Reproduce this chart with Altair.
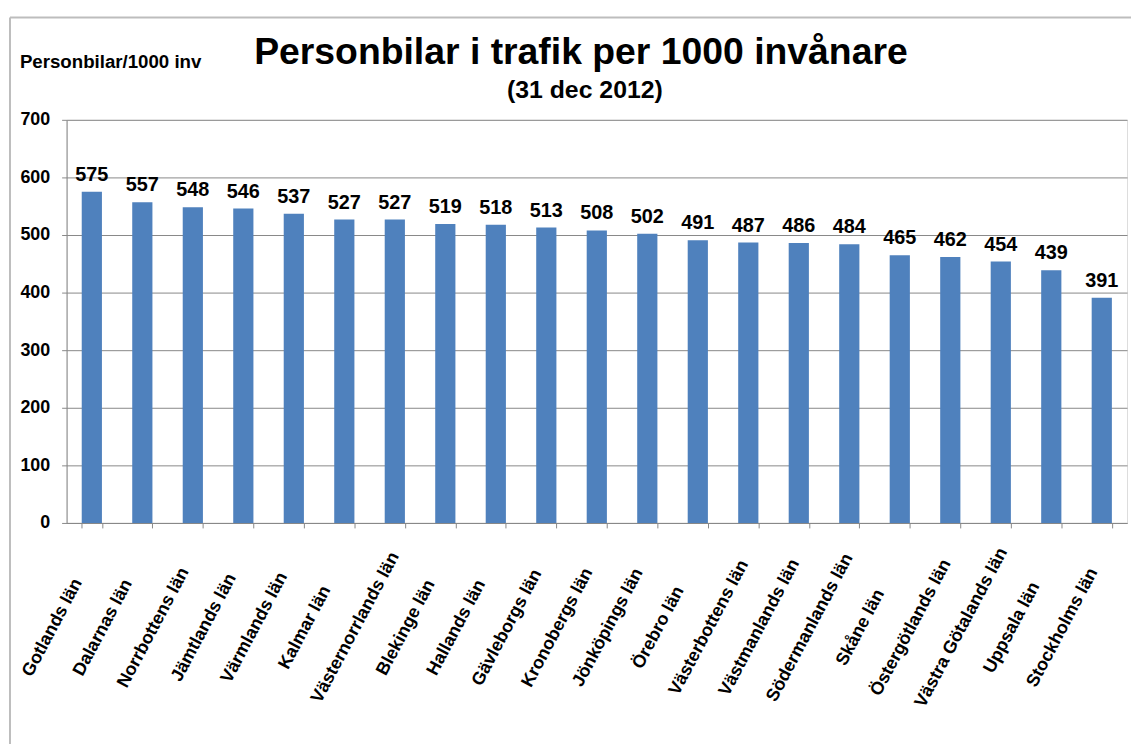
import altair as alt
import pandas as pd

counties = ["Gotlands län", "Dalarnas län", "Norrbottens län", "Jämtlands län", "Värmlands län",
            "Kalmar län", "Västernorrlands län", "Blekinge län", "Hallands län", "Gävleborgs län",
            "Kronobergs län", "Jönköpings län", "Örebro län", "Västerbottens län", "Västmanlands län",
            "Södermanlands län", "Skåne län", "Östergötlands län", "Västra Götalands län",
            "Uppsala län", "Stockholms län"]
values = [575, 557, 548, 546, 537, 527, 527, 519, 518, 513, 508, 502, 491, 487, 486, 484,
          465, 462, 454, 439, 391]
y_ticks = [0, 100, 200, 300, 400, 500, 600, 700]

title_text = "Personbilar i trafik per 1000 invånare"
subtitle_text = "(31 dec 2012)"
yaxis_text = "Personbilar/1000 inv"

df = pd.DataFrame({"county": counties, "value": values})

FONT = "Liberation Sans"
W, H = 1068, 406

x = alt.X("county:N", sort=counties, title=None,
          scale=alt.Scale(paddingInner=0.6, paddingOuter=0.3),
          axis=alt.Axis(labelAngle=-62, labelAlign="center", labelBaseline="middle",
                        labelPadding=100, labelOffset=-40,
                        labelOverlap=False, tickBand="extent", tickSize=5,
                        labelLimit=400, grid=False))
y = alt.Y("value:Q", title=None,
          scale=alt.Scale(domain=[0, 700], nice=False),
          axis=alt.Axis(values=y_ticks, labelPadding=12, tickSize=5, labelOverlap=False))

base = alt.Chart(df)
bars = base.mark_bar(color="#4F81BD").encode(x=x, y=y)
labels = base.mark_text(font=FONT, fontSize=20, fontWeight="bold", baseline="alphabetic",
                        dy=-11, color="black").encode(x=x, y=y, text="value:Q")

tdf = pd.DataFrame({"t": [title_text]})
title = alt.Chart(tdf).mark_text(font=FONT, fontSize=37.6, fontWeight="bold", align="center",
                                 baseline="alphabetic", color="black").encode(
    x=alt.value(518), y=alt.value(-56), text="t:N")
sdf = pd.DataFrame({"t": [subtitle_text]})
subtitle = alt.Chart(sdf).mark_text(font=FONT, fontSize=25, fontWeight="bold", align="center",
                                    baseline="alphabetic", color="black").encode(
    x=alt.value(522), y=alt.value(-22), text="t:N")
ydf = pd.DataFrame({"t": [yaxis_text]})
ylab = alt.Chart(ydf).mark_text(font=FONT, fontSize=18.8, fontWeight="bold", align="left",
                                baseline="alphabetic", color="black").encode(
    x=alt.value(-47), y=alt.value(-52), text="t:N")

border_top = alt.Chart(tdf).mark_rule(color="#bdbdbd", strokeWidth=2).encode(
    x=alt.value(-57), x2=alt.value(1080), y=alt.value(-103))
border_left = alt.Chart(tdf).mark_rule(color="#bdbdbd", strokeWidth=2).encode(
    x=alt.value(-57), y=alt.value(-103), y2=alt.value(640))

chart = alt.layer(border_top, border_left, bars, labels, title, subtitle, ylab).properties(
    width=W, height=H,
    autosize=alt.AutoSizeParams(type="none"),
    padding={"left": 59, "top": 110, "right": 4, "bottom": 220},
).configure_view(stroke=None).configure(background="white").configure_axis(
    labelFont=FONT, labelFontWeight="bold", labelColor="black",
    tickColor="#888888", domainColor="#888888", gridColor="#888888", gridWidth=1,
).configure_axisX(labelFontSize=18).configure_axisY(labelFontSize=18)

chart.save("out.html", embed_options={"renderer": "svg", "actions": False})
